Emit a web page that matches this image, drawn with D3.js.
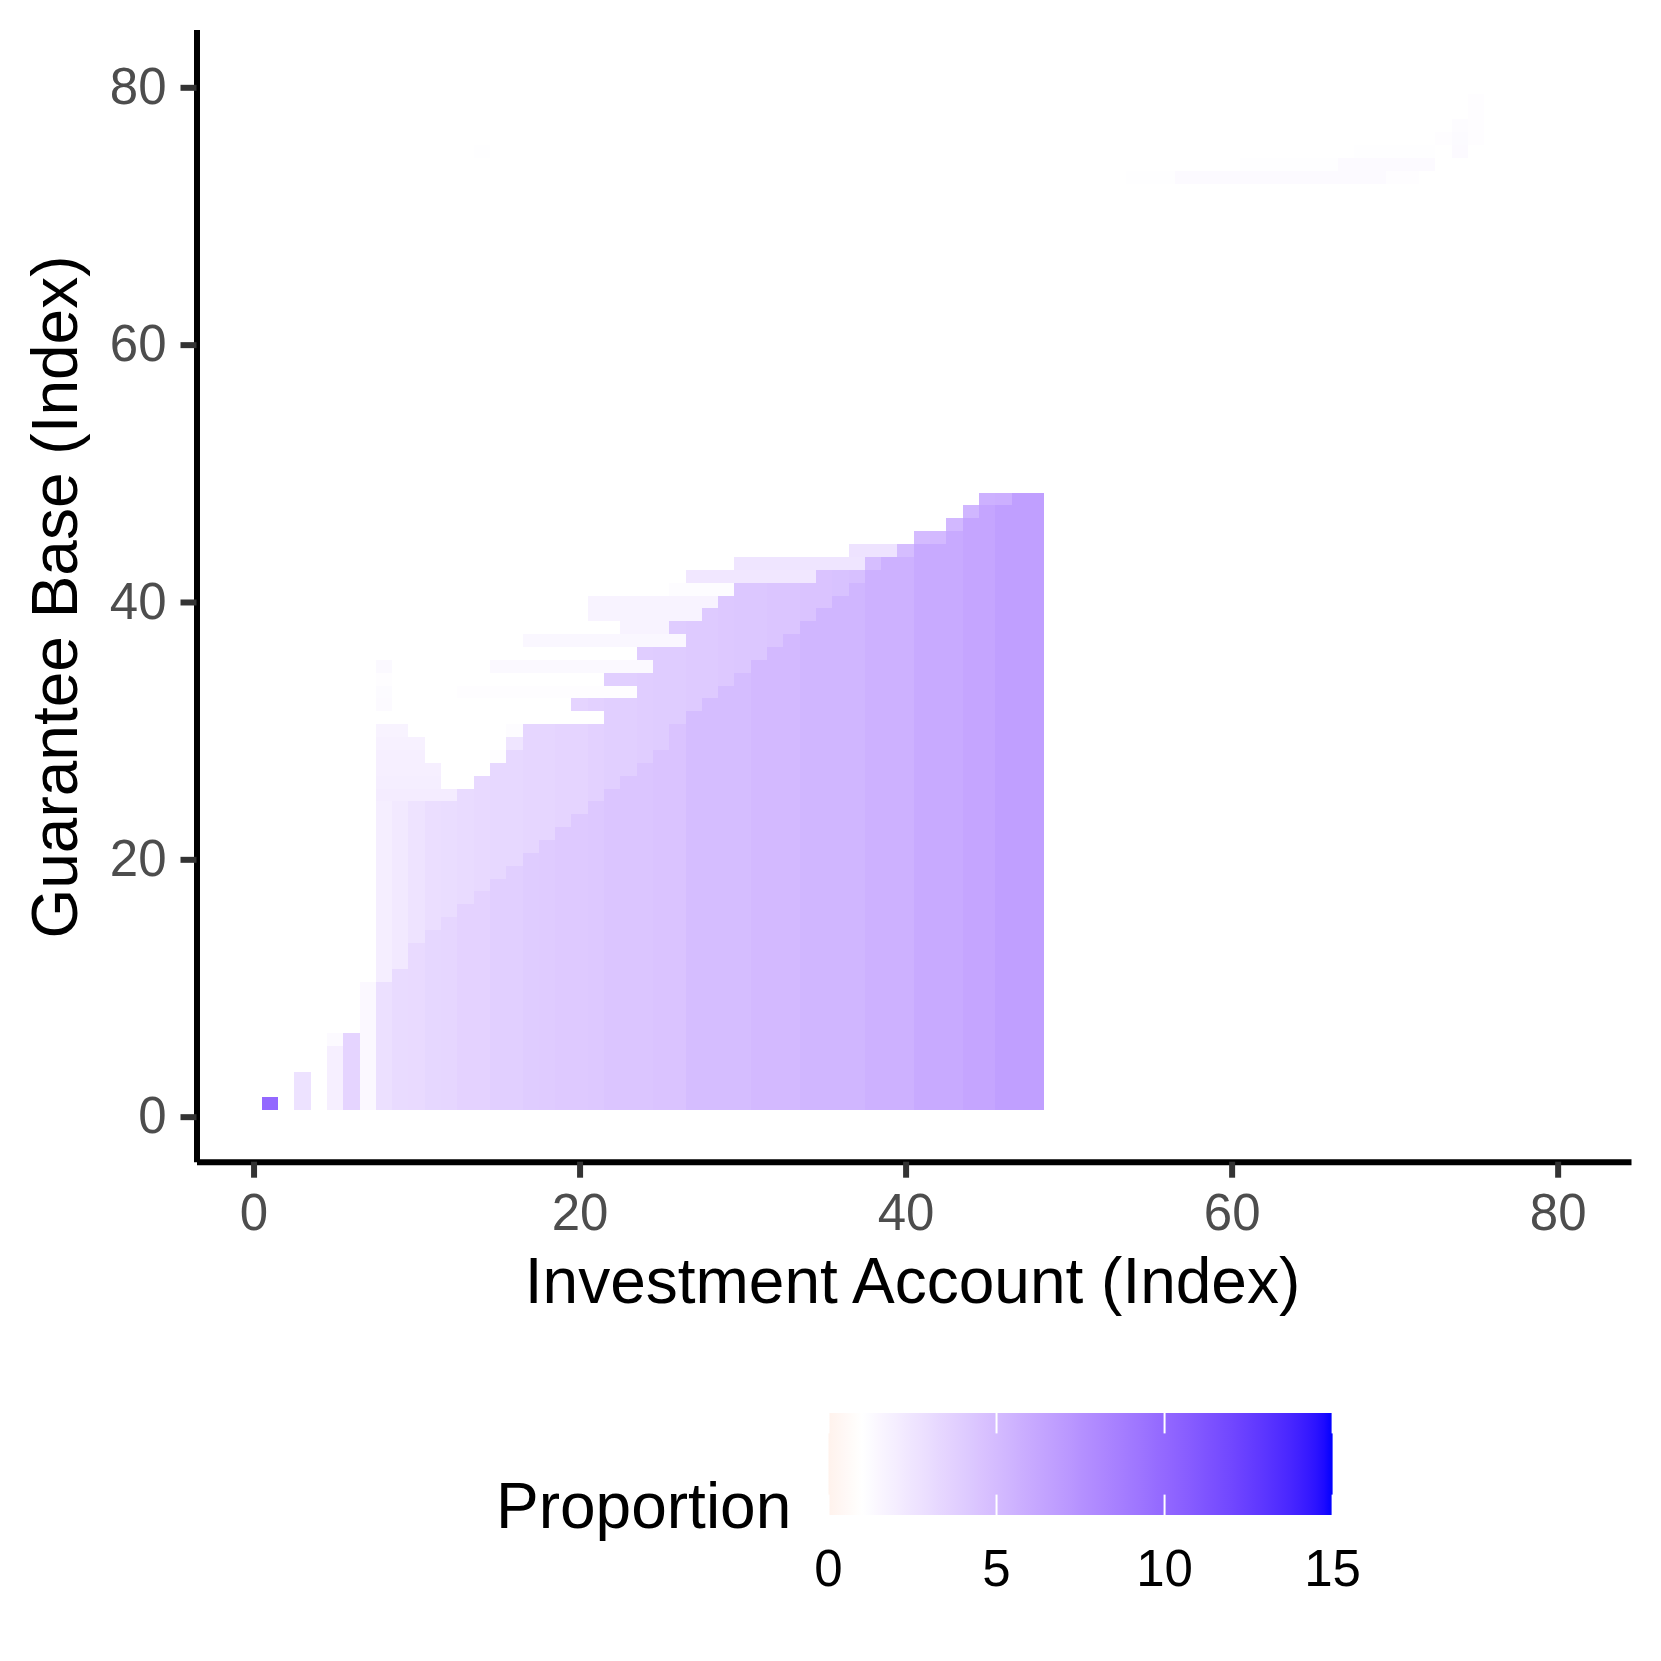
<!DOCTYPE html>
<html>
<meta charset="utf-8">

<style>
body{
  margin:0;
  background:#fff;
}
text{
  font-family:"Liberation Sans", Arial, sans-serif;
}
.axis text{
  fill:#4d4d4d;
  font-size:51px;
}
.axis .tick line{
  stroke:#333333;
  stroke-width:6px;
}
.axis path.domain{
  stroke:#000;
  stroke-width:6px;
}
.title{
  font-size:64px;
  fill:#000;
}
.legend-label{
  font-size:51px;
  fill:#000;
  text-anchor:middle;
}
</style>

<body>
<svg width="1661" height="1661"></svg>
<script src="https://cdn.jsdelivr.net/npm/d3@7"></script>

<script>

// Investment Account index of the main block
var mainCols = [8,9,10,11,12,13,14,15,16,17,18,19,20,21,22,23,24,25,26,27,28,
                29,30,31,32,33,34,35,36,37,38,39,40,41,42,43,44,45,46,47,48];
// proportion below the diagonal (vertical stripes)
var baseValue = [2.8,3.1,3.15,3.35,3.4,3.6,3.6,3.8,3.8,4.0,4.05,4.15,4.15,4.2,4.4,4.4,4.4,4.5,4.5,
                 4.9,4.9,4.9,4.9,5.1,5.1,5.1,5.3,5.3,5.3,5.3,5.6,5.6,5.6,6.0,6.0,6.0,6.3,6.3,6.7,6.7,6.7];
// proportion above the diagonal
var midValue = [2.0,2.3,2.6,2.9,3.0,3.1,3.2,3.3,3.3,3.4,3.4,3.5,3.5,3.7,3.8,3.8,3.9,4.0,4.0,
                4.1,4.1,4.2,4.3,4.3,4.4,4.4,4.5,4.5,4.6,4.7,4.8,4.8,4.9,5.0,5.1,5.2,5.3,5.6,5.7,6.7,6.7];

// Guarantee Base index of the rows
var rowIdx = d3.range(1, 49);
// first filled column of each row
var rowMidStart = [8,8,8,8,8,8,8,8,8,8,8,8,8,8,8,8,8,8,8,8,8,8,8,8,
                   13,14,15,16,17,17,22,20,24,22,25,24,27,26,28,29,30,35,38,40,41,43,44,45];
// first column of each row that takes the base stripe value
var rowBaseStart = [8,8,8,8,8,8,8,8,8,8,9,10,10,11,12,13,14,15,16,17,18,19,20,21,
                    22,23,24,25,26,26,27,28,29,30,31,32,33,34,35,36,37,38,39,41,43,44,45,47];

// small columns on the left: [column, fromRow, toRow, value]
var leftCells = [[1,1,1,10.0],[3,1,3,2.7],[5,1,5,1.9],[5,6,6,1.3],[6,1,6,3.5],[7,1,10,1.4]];

// faint strips: [row, fromCol, toCol, value]
var faintRuns = [
  [25,8,12,2.1],[26,8,11,2.0],[27,8,11,1.9],[28,8,10,1.9],[28,15,15,1.1],
  [29,8,10,1.8],[29,16,16,2.5],[30,8,9,1.7],[30,16,16,1.15],
  [32,8,8,1.3],[33,8,8,1.25],[33,13,23,1.1],[34,8,8,1.1],[35,8,8,1.35],[35,15,24,1.35],
  [37,17,26,1.45],[38,23,25,1.7],[39,21,27,1.7],[40,21,28,1.7],[41,26,29,1.15],
  [42,27,34,2.4],[43,30,37,2.5],[44,37,39,2.6],
  [73,54,56,1.05],[73,57,69,1.3],[73,70,71,1.1],[74,61,66,1.06],[74,67,72,1.3],
  [75,68,72,1.08],[75,74,74,1.3],[76,73,73,1.1],[76,74,74,1.25],[77,74,74,1.2],
  [76,75,75,1.12],[77,75,75,1.12],[78,75,75,1.1],[79,75,75,1.1],[75,14,14,1.05]
];

var xTicks = [0,20,40,60,80];
var yTicks = [0,20,40,60,80];
var legendTicks = [0,5,10,15];

var svg = d3.select("svg");

var x = d3.scaleLinear().domain([-3.5, 84.5]).range([196.5, 1631]);
var y = d3.scaleLinear().domain([-3.5, 84.5]).range([1161.7, 29.4]);

// gradient2: low red, mid white (at 1), high blue, limits 0..15
var color = d3.scaleLinear()
    .domain([-13, 1, 15])
    .range(["#ff0000", "#ffffff", "#0000ff"])
    .interpolate(d3.interpolateLab)
    .clamp(true);

// build the tiles
var cells = [];
rowIdx.forEach(function(r, ri) {
  mainCols.forEach(function(c, ci) {
    if (c < rowMidStart[ri]) return;
    cells.push({x: c, y: r, v: c < rowBaseStart[ri] ? midValue[ci] : baseValue[ci]});
  });
});
leftCells.forEach(function(d) {
  for (var r = d[1]; r <= d[2]; r++) cells.push({x: d[0], y: r, v: d[3]});
});
faintRuns.forEach(function(d) {
  for (var c = d[1]; c <= d[2]; c++) cells.push({x: c, y: d[0], v: d[3]});
});

svg.append("g")
  .selectAll("rect")
  .data(cells)
  .enter().append("rect")
    .attr("x", function(d) { return x(d.x - 0.5); })
    .attr("y", function(d) { return y(d.y + 0.5); })
    .attr("width", function(d) { return x(d.x + 0.5) - x(d.x - 0.5); })
    .attr("height", function(d) { return y(d.y - 0.5) - y(d.y + 0.5); })
    .attr("fill", function(d) { return color(d.v); })
    .attr("shape-rendering", "crispEdges");

// axes
svg.append("g")
    .attr("class", "axis")
    .attr("transform", "translate(0," + 1161.7 + ")")
    .call(d3.axisBottom(x).tickValues(xTicks).tickSize(16).tickSizeOuter(0).tickPadding(16));

svg.append("g")
    .attr("class", "axis")
    .attr("transform", "translate(" + 196.5 + ",0)")
    .call(d3.axisLeft(y).tickValues(yTicks).tickSize(16).tickSizeOuter(0).tickPadding(14));

svg.selectAll(".axis text").attr("font-family", null);

svg.append("text")
    .attr("class", "title")
    .attr("x", 912.5)
    .attr("y", 1303)
    .attr("text-anchor", "middle")
    .text("Investment Account (Index)");

svg.append("text")
    .attr("class", "title")
    .attr("transform", "translate(77,597) rotate(-90)")
    .attr("text-anchor", "middle")
    .text("Guarantee Base (Index)");

// colour bar legend
var lx = d3.scaleLinear().domain([0, 15]).range([828.5, 1332.6]);
var barTop = 1413, barH = 102;

var grad = svg.append("defs").append("linearGradient")
    .attr("id", "bar")
    .attr("x1", "0%").attr("x2", "100%").attr("y1", "0%").attr("y2", "0%");
grad.selectAll("stop")
  .data(d3.range(0, 15.001, 0.25))
  .enter().append("stop")
    .attr("offset", function(d) { return (d / 15 * 100) + "%"; })
    .attr("stop-color", function(d) { return color(d); });

svg.append("rect")
    .attr("x", lx(0))
    .attr("y", barTop)
    .attr("width", lx(15) - lx(0))
    .attr("height", barH)
    .attr("fill", "url(#bar)");

var lt = svg.append("g").selectAll("g")
  .data(legendTicks)
  .enter().append("g");
lt.append("line")
    .attr("x1", function(d) { return lx(d); })
    .attr("x2", function(d) { return lx(d); })
    .attr("y1", barTop).attr("y2", barTop + barH / 5)
    .attr("stroke", "#fff").attr("stroke-width", 2);
lt.append("line")
    .attr("x1", function(d) { return lx(d); })
    .attr("x2", function(d) { return lx(d); })
    .attr("y1", barTop + barH * 4 / 5).attr("y2", barTop + barH)
    .attr("stroke", "#fff").attr("stroke-width", 2);
lt.append("text")
    .attr("class", "legend-label")
    .attr("x", function(d) { return lx(d); })
    .attr("y", 1586)
    .text(function(d) { return d; });

svg.append("text")
    .attr("class", "title")
    .attr("x", 496)
    .attr("y", 1528)
    .text("Proportion");

</script>
</body>
</html>
